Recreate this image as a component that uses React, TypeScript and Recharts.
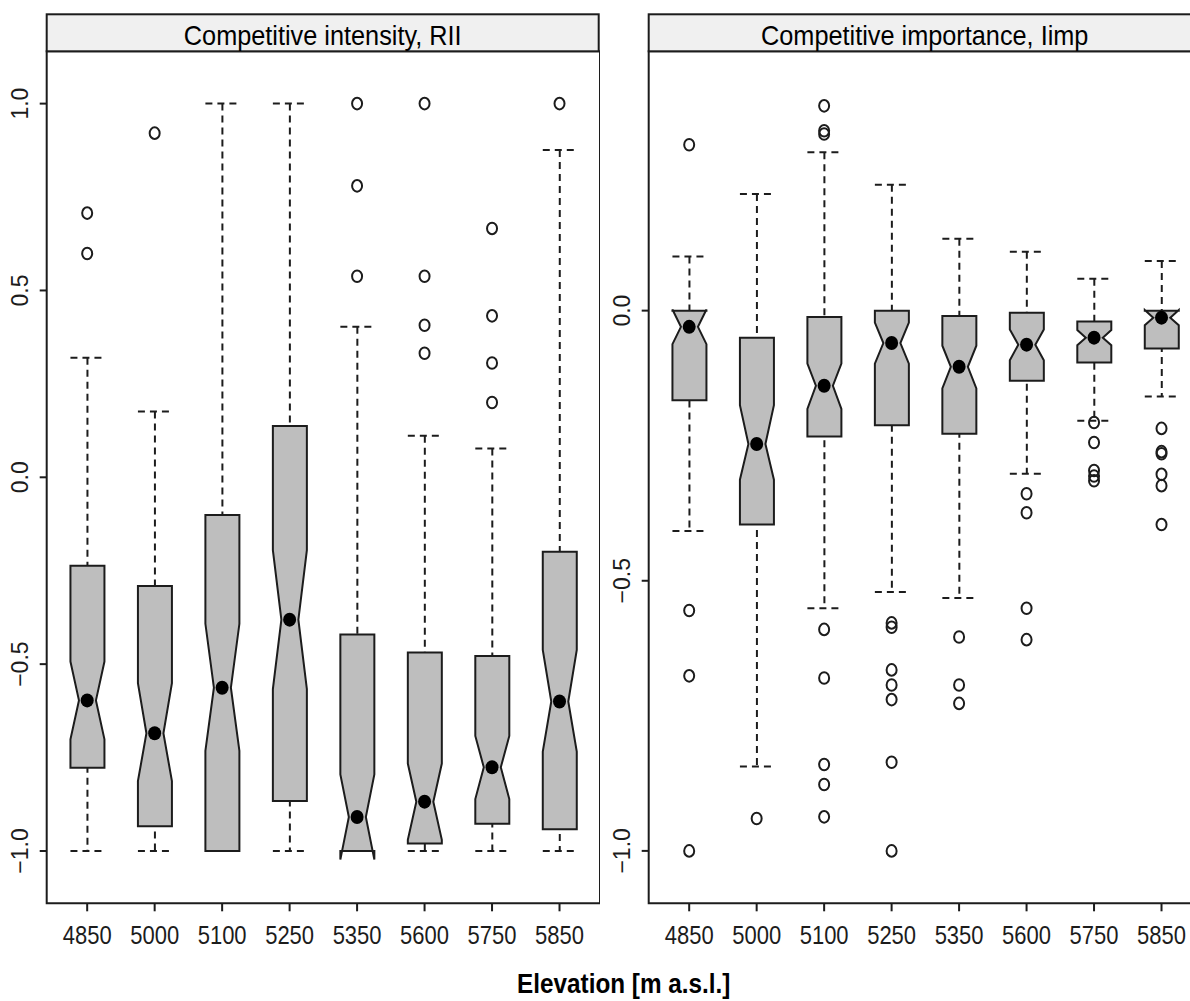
import React from "react";
import { ComposedChart, XAxis, YAxis, Bar, Scatter, ReferenceArea } from "recharts";

const elevations = ["4850", "5000", "5100", "5250", "5350", "5600", "5750", "5850"];
const positions = [1, 2, 3, 4, 5, 6, 7, 8];

// Competitive intensity, RII
const riiWhiskerLo = [-1, -1, -1, -1, -1, -1, -1, -1];
const riiQ1 = [-0.777, -0.934, -1.0, -0.866, -1.0, -0.98, -0.927, -0.942];
const riiMedian = [-0.597, -0.685, -0.563, -0.381, -0.909, -0.868, -0.776, -0.6];
const riiQ3 = [-0.237, -0.291, -0.101, 0.137, -0.421, -0.469, -0.478, -0.199];
const riiWhiskerHi = [0.32, 0.176, 1.0, 1.0, 0.403, 0.111, 0.077, 0.876];
const riiNotchLo = [-0.701, -0.813, -0.732, -0.567, -1.023, -0.97, -0.861, -0.734];
const riiNotchHi = [-0.493, -0.551, -0.392, -0.195, -0.795, -0.766, -0.692, -0.462];
const riiOutliers = [
  [0.707, 0.599],
  [0.921],
  [],
  [],
  [1.0, 0.78, 0.538],
  [1.0, 0.538, 0.407, 0.332],
  [0.666, 0.432, 0.306, 0.2],
  [1.0],
];
const riiTicks = [-1, -0.5, 0, 0.5, 1];

// Competitive importance, Iimp
const impWhiskerLo = [-0.408, -0.844, -0.551, -0.521, -0.532, -0.302, -0.204, -0.159];
const impQ1 = [-0.166, -0.396, -0.233, -0.212, -0.228, -0.13, -0.096, -0.07];
const impMedian = [-0.03, -0.247, -0.139, -0.06, -0.104, -0.063, -0.05, -0.013];
const impQ3 = [0.0, -0.05, -0.012, 0.0, -0.01, -0.004, -0.02, 0.0];
const impWhiskerHi = [0.1, 0.216, 0.293, 0.233, 0.133, 0.109, 0.059, 0.092];
const impNotchLo = [-0.062, -0.313, -0.182, -0.098, -0.144, -0.092, -0.064, -0.027];
const impNotchHi = [0.002, -0.175, -0.098, -0.022, -0.065, -0.035, -0.036, 0.001];
const impOutliers = [
  [0.307, -0.555, -0.676, -1.0],
  [-0.94],
  [0.379, 0.333, 0.327, -0.59, -0.68, -0.84, -0.877, -0.937],
  [-0.578, -0.586, -0.665, -0.693, -0.72, -0.836, -1.0],
  [-0.604, -0.693, -0.727],
  [-0.339, -0.374, -0.551, -0.609],
  [-0.207, -0.244, -0.296, -0.306, -0.315],
  [-0.218, -0.261, -0.265, -0.303, -0.324, -0.396],
];
const impTicks = [-1, -0.5, 0];

const FONT = '"Liberation Sans", Arial, Helvetica, sans-serif';
const INK = "#1c1c1c";
const BOX_FILL = "#bebebe";
const STRIP_FILL = "#f0f0f0";
const BOX_W = 34;
const SQUEEZE = 0.88; // the figure's lettering is a little condensed

function buildRows(wlo: number[], q1: number[], med: number[], q3: number[], whi: number[], nlo: number[], nhi: number[]) {
  return positions.map((p, i) => ({
    pos: p,
    whisker: [wlo[i], whi[i]],
    box: [q1[i], q3[i]],
    median: med[i],
    notch: [nlo[i], nhi[i]],
  }));
}

function buildOutliers(groups: number[][]) {
  return groups.flatMap((vals, i) => vals.map((v) => ({ pos: positions[i], val: v })));
}

const riiRows = buildRows(riiWhiskerLo, riiQ1, riiMedian, riiQ3, riiWhiskerHi, riiNotchLo, riiNotchHi);
const impRows = buildRows(impWhiskerLo, impQ1, impMedian, impQ3, impWhiskerHi, impNotchLo, impNotchHi);

function Whisker(props: any) {
  const { x, y, width, height } = props;
  if (x == null || y == null) return null;
  const top = Math.min(y, y + height);
  const bottom = top + Math.abs(height);
  const cx = x + width / 2;
  return (
    <g stroke={INK} strokeWidth={2} strokeDasharray="7 5" fill="none">
      <line x1={cx} x2={cx} y1={top} y2={bottom} />
      <line x1={x} x2={x + width} y1={top} y2={top} />
      <line x1={x} x2={x + width} y1={bottom} y2={bottom} />
    </g>
  );
}

function NotchedBox(props: any) {
  const { x, y, width, height, payload } = props;
  if (x == null || y == null) return null;
  const top = Math.min(y, y + height);
  const h = Math.abs(height);
  const [lo, hi] = payload.box;
  // linear position inside the bar rectangle the library gave us
  const toPx = (v: number) => top + ((hi - v) / (hi - lo)) * h;
  const left = x;
  const right = x + width;
  const cx = x + width / 2;
  const inner = width / 4;
  const yQ1 = toPx(lo);
  const yQ3 = toPx(hi);
  const yMed = toPx(payload.median);
  const yNlo = toPx(payload.notch[0]);
  const yNhi = toPx(payload.notch[1]);
  const pts = [
    [left, yQ1], [left, yNlo], [cx - inner, yMed], [left, yNhi], [left, yQ3],
    [right, yQ3], [right, yNhi], [cx + inner, yMed], [right, yNlo], [right, yQ1],
  ];
  return (
    <polygon
      points={pts.map((p) => p.join(",")).join(" ")}
      fill={BOX_FILL}
      stroke={INK}
      strokeWidth={2}
      strokeLinejoin="miter"
    />
  );
}

const MedianDot = (props: any) =>
  props.cx == null ? null : <ellipse cx={props.cx} cy={props.cy} rx={6.5} ry={7} fill="#000" />;

const OutlierDot = (props: any) =>
  props.cx == null ? null : (
    <ellipse cx={props.cx} cy={props.cy} rx={5} ry={5.8} fill="none" stroke={INK} strokeWidth={2} />
  );

function XTick(props: any) {
  const { x, y, payload } = props;
  return (
    <text
      transform={`translate(${x},${y + 31}) scale(${SQUEEZE},1)`}
      textAnchor="middle"
      fontSize={25}
      fontFamily={FONT}
      fill={INK}
    >
      {elevations[payload.value - 1]}
    </text>
  );
}

function YTick(props: any) {
  const { x, y, payload } = props;
  const v = payload.value;
  const label = (v < 0 ? "\u2212" : "") + Math.abs(v).toFixed(1);
  return (
    <text
      transform={`translate(${x - 10},${y}) rotate(-90)`}
      textAnchor="middle"
      fontSize={23}
      fontFamily={FONT}
      fill={INK}
    >
      {label}
    </text>
  );
}

interface PanelProps {
  rows: any[];
  outliers: { pos: number; val: number }[];
  yDomain: [number, number];
  yTicks: number[];
}

function Panel({ rows, outliers, yDomain, yTicks }: PanelProps) {
  return (
    <ComposedChart width={600} height={960} data={rows} margin={{ top: 0, right: 0, bottom: 0, left: 0 }}>
      <XAxis
        xAxisId="main"
        type="number"
        dataKey="pos"
        domain={[0.4, 8.6]}
        ticks={positions}
        height={56.7}
        tickSize={8}
        axisLine={false}
        stroke={INK}
        tickLine={{ stroke: INK, strokeWidth: 2 }}
        tick={<XTick />}
        allowDataOverflow
      />
      <XAxis xAxisId="over" type="number" dataKey="pos" domain={[0.4, 8.6]} hide allowDataOverflow />
      <XAxis
        xAxisId="top"
        orientation="top"
        type="number"
        dataKey="pos"
        domain={[0.4, 8.6]}
        ticks={positions}
        height={51.3}
        tickSize={45}
        axisLine={false}
        tick={false}
        tickLine={{ stroke: INK, strokeWidth: 2 }}
        allowDataOverflow
      />
      <YAxis
        type="number"
        domain={yDomain}
        ticks={yTicks}
        width={46.7}
        tickSize={7}
        axisLine={false}
        tickLine={{ stroke: INK, strokeWidth: 2 }}
        tick={<YTick />}
        allowDataOverflow
      />
      <ReferenceArea
        xAxisId="main"
        x1={0.4}
        x2={8.6}
        y1={yDomain[0]}
        y2={yDomain[1]}
        fill="none"
        fillOpacity={0}
        stroke={INK}
        strokeWidth={2}
        ifOverflow="visible"
      />
      <Bar xAxisId="main" dataKey="whisker" barSize={BOX_W} shape={<Whisker />} isAnimationActive={false} />
      <Bar xAxisId="over" dataKey="box" barSize={BOX_W} shape={<NotchedBox />} isAnimationActive={false} />
      <Scatter xAxisId="main" dataKey="median" shape={<MedianDot />} isAnimationActive={false} />
      <Scatter xAxisId="main" data={outliers} dataKey="val" shape={<OutlierDot />} isAnimationActive={false} />
    </ComposedChart>
  );
}

export default function App() {
  return (
    <div
      style={{
        position: "absolute",
        left: 0,
        top: 0,
        width: 1190,
        height: 1001,
        overflow: "hidden",
        background: "#fff",
        fontFamily: FONT,
      }}
    >
      <div style={{ position: "absolute", left: 0, top: 0 }}>
        <Panel rows={riiRows} outliers={buildOutliers(riiOutliers)} yDomain={[-1.14, 1.14]} yTicks={riiTicks} />
      </div>
      <div style={{ position: "absolute", left: 602, top: 0 }}>
        <Panel rows={impRows} outliers={buildOutliers(impOutliers)} yDomain={[-1.097, 0.48]} yTicks={impTicks} />
      </div>
      <svg width={1190} height={1001} style={{ position: "absolute", left: 0, top: 0, pointerEvents: "none" }}>
        <rect x={46.7} y={14.3} width={552} height={37} fill={STRIP_FILL} stroke={INK} strokeWidth={2} />
        <text
          transform={`translate(322.7,44.5) scale(0.92,1)`}
          textAnchor="middle"
          fontSize={27.5}
          fontFamily={FONT}
          fill="#000"
        >
          Competitive intensity, RII
        </text>
        <rect x={648.7} y={14.3} width={552} height={37} fill={STRIP_FILL} stroke={INK} strokeWidth={2} />
        <text
          transform={`translate(924.7,44.5) scale(0.92,1)`}
          textAnchor="middle"
          fontSize={27.5}
          fontFamily={FONT}
          fill="#000"
        >
          Competitive importance, Iimp
        </text>
        <text
          transform={`translate(623.7,993) scale(0.9,1)`}
          textAnchor="middle"
          fontSize={27}
          fontWeight="bold"
          fontFamily={FONT}
          fill="#000"
        >
          Elevation [m a.s.l.]
        </text>
      </svg>
    </div>
  );
}
